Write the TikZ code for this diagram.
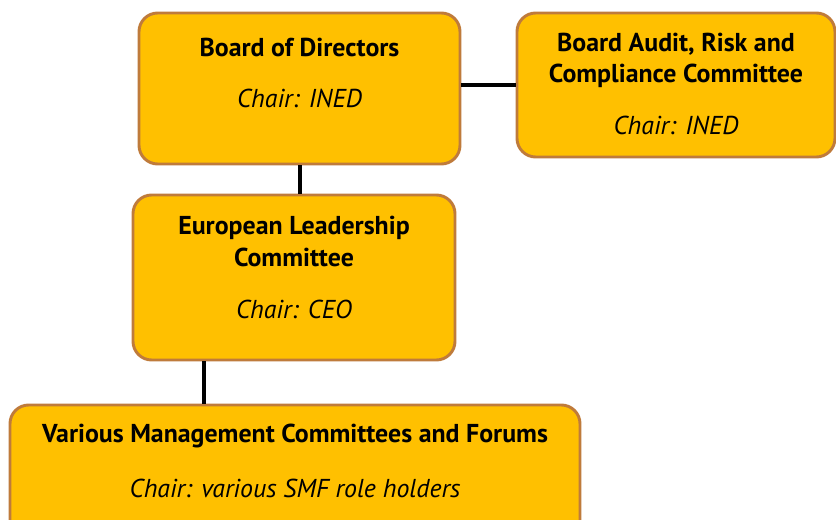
\documentclass[tikz,border=0pt]{standalone}
\usepackage{fontspec}
\setmainfont{PT Sans}
\usepackage[rgb]{xcolor}
\usepackage{tikz}
\usetikzlibrary{positioning}

\definecolor{gold}{HTML}{FFC000}
\definecolor{rim}{HTML}{BF7B3B}

\begin{document}
\begin{tikzpicture}[x=0.75pt, y=-0.75pt,
  panel/.style={draw=rim, fill=gold, line width=2.2pt, rounded corners=14pt},
  title/.style={anchor=base, font=\fontsize{19.4}{23}\selectfont\bfseries},
  chair/.style={anchor=base, font=\fontsize{19.4}{23}\selectfont\itshape},
  link/.style={draw=black, line width=3pt}]

\useasboundingbox (0,0) rectangle (836,520);

% committee boxes, no text inside (text is set on top)
\path
(299.5,88.5) node[panel, minimum width=240.75pt, minimum height=113.25pt] (board) {}
(676,85)     node[panel, minimum width=238.5pt,  minimum height=108pt]    (audit) {}
(294,277.5)  node[panel, minimum width=241.5pt,  minimum height=123.75pt] (elc)   {}
(295,472.5)  node[panel, minimum width=427.5pt,  minimum height=101.25pt] (forums) {};

% reporting lines
\draw[link] (audit.west) -- (audit.west -| board.east);
\draw[link] (board.south) -- (board.south |- elc.north);
\coordinate (elcfoot) at ([xshift=-67.5pt]elc.south);
\draw[link] (elcfoot) -- (elcfoot |- forums.north);

% labels
\node[title] (boardname) at (299.5,57) {Board of Directors};
\node[chair] (boardchair) at (299.5,108) {Chair: INED};

\node[title] (auditname) at (676,52) {Board Audit, Risk and};
\node[title] (auditname2) at (676,83) {Compliance Committee};
\node[chair] (auditchair) at (676,135) {Chair: INED};

\node[title] (elcname) at (294,235) {European Leadership};
\node[title] (elcname2) at (294,267) {Committee};
\node[chair] (elcchair) at (294,319) {Chair: CEO};

\node[title] (forumsname) at (295,443) {Various Management Committees and Forums};
\node[chair] (forumschair) at (295,497) {Chair: various SMF role holders};

\end{tikzpicture}
\end{document}
